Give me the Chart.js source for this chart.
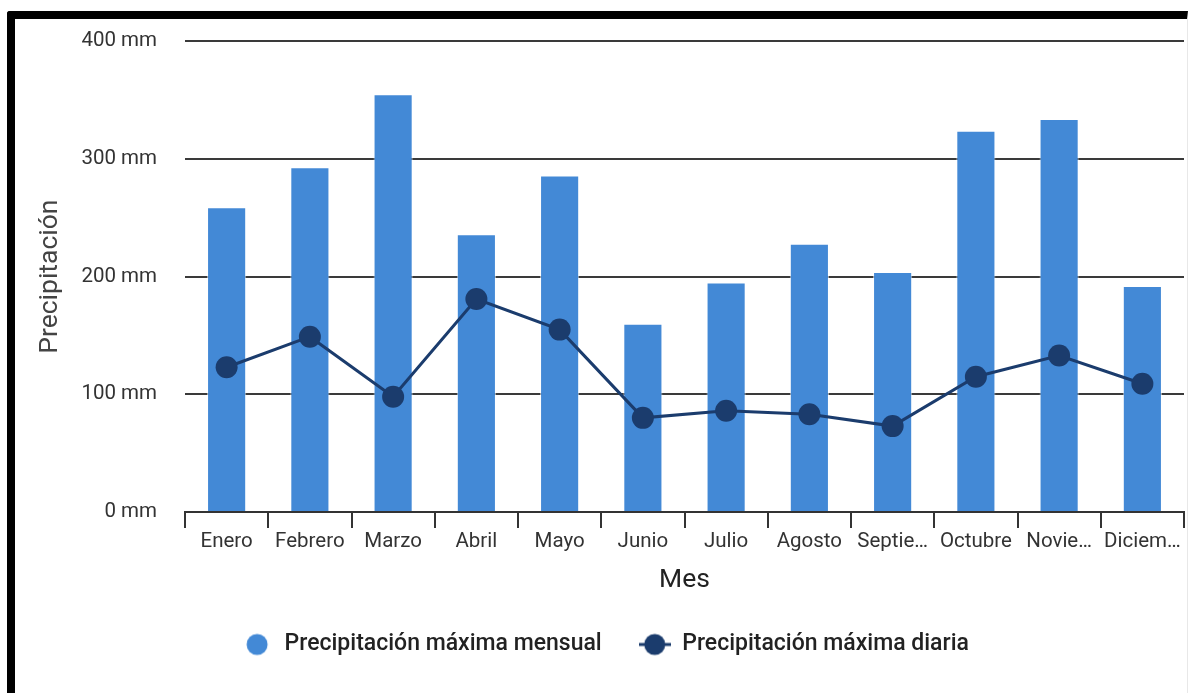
<!DOCTYPE html>
<html>
<head>
<meta charset="utf-8">
<script src="https://cdn.jsdelivr.net/npm/chart.js"></script>
<style>
  body { margin: 0; background: #fff; }
  #wrap {
    position: absolute; left: 7px; top: 11px;
    width: 1172px; height: 674px;
    border-top: 8px solid #000; border-left: 8px solid #000;
    border-right: 1px solid #e8e8e8;
    border-top-left-radius: 3px;
    overflow: hidden;
  }
  #myChart { position: absolute; left: 0; top: -18px; }
</style>
</head>
<body>
<div id="wrap"><canvas id="myChart" width="1180" height="692"></canvas></div>
<script>
//chart data
const months = ["Enero", "Febrero", "Marzo", "Abril", "Mayo", "Junio", "Julio", "Agosto", "Septiembre", "Octubre", "Noviembre", "Diciembre"];
const tickLabels = ["Enero", "Febrero", "Marzo", "Abril", "Mayo", "Junio", "Julio", "Agosto", "Septie…", "Octubre", "Novie…", "Diciem…"];
const maxMensual = [259, 293, 355, 236, 286, 160, 195, 228, 204, 324, 334, 192];
const maxDiaria = [123, 149, 98, 181, 155, 80, 86, 83, 73, 115, 133, 109];
const yTicks = [0, 100, 200, 300, 400];

const barColor = "#4389d6";
const lineColor = "#1b3c6d";

//legend icons
function makeIcon(withLine, color) {
  const c = document.createElement("canvas");
  c.width = 32;
  c.height = 24;
  const g = c.getContext("2d");
  if (withLine) {
    g.strokeStyle = color;
    g.lineWidth = 3;
    g.beginPath();
    g.moveTo(0, 12);
    g.lineTo(32, 12);
    g.stroke();
  }
  g.fillStyle = color;
  g.beginPath();
  g.arc(16, 12, 10.5, 0, Math.PI * 2);
  g.fill();
  return c;
}
const icons = [makeIcon(false, barColor), makeIcon(true, lineColor)];

const ctx = document.getElementById("myChart");
new Chart(ctx, {
  type: "bar",
  data: {
    labels: months,
    datasets: [
      {
        type: "line",
        label: "Precipitación máxima diaria",
        data: maxDiaria,
        borderColor: lineColor,
        backgroundColor: lineColor,
        borderWidth: 3,
        pointRadius: 11,
        pointHoverRadius: 11,
        pointBackgroundColor: lineColor,
        pointBorderWidth: 0,
        tension: 0,
        order: 0,
      },
      {
        label: "Precipitación máxima mensual",
        data: maxMensual,
        backgroundColor: barColor,
        borderColor: "rgba(255,255,255,0.6)",
        borderWidth: 1,
        barPercentage: 0.47,
        categoryPercentage: 1,
        order: 1,
      },
    ],
  },
  options: {
    responsive: false,
    animation: false,
    layout: { padding: { top: 7, right: 0, bottom: 27, left: 0 } },
    plugins: {
      tooltip: { enabled: false },
      legend: {
        position: "bottom",
        reverse: true,
        labels: {
          usePointStyle: true,
          pointStyleWidth: 32,
          padding: 37,
          color: "#222",
          font: { family: "Roboto", size: 23, weight: 500 },
          generateLabels: (chart) => {
            const items = Chart.defaults.plugins.legend.labels.generateLabels(chart);
            items.forEach((it) => {
              it.pointStyle = it.datasetIndex === 0 ? icons[1] : icons[0];
            });
            return items;
          },
        },
      },
    },
    scales: {
      x: {
        afterFit: (s) => { s.height = 84; },
        grid: {
          offset: true,
          drawOnChartArea: false,
          drawTicks: true,
          tickLength: 16,
          color: "#333",
          lineWidth: 2,
        },
        border: { color: "#333", width: 2 },
        ticks: {
          padding: 2,
          maxRotation: 0,
          autoSkip: false,
          color: "#333",
          font: { family: "Roboto", size: 20.5 },
          callback: (v, i) => tickLabels[i],
        },
        title: {
          display: true,
          text: "Mes",
          color: "#222",
          font: { family: "Roboto", size: 26.5 },
          padding: { top: 4, bottom: 0 },
        },
      },
      y: {
        min: 0,
        max: 400,
        afterFit: (s) => { s.width = 170; },
        afterBuildTicks: (s) => { s.ticks = yTicks.map((v) => ({ value: v })); },
        grid: { color: "#3a3a3a", lineWidth: 2, drawTicks: false },
        border: { display: false },
        ticks: {
          padding: 28,
          color: "#333",
          font: { family: "Roboto", size: 20.5 },
          callback: (v) => v + " mm",
        },
        title: {
          display: true,
          text: "Precipitación",
          color: "#444",
          font: { family: "Roboto", size: 26.5 },
          padding: { top: 19, bottom: 0 },
        },
      },
    },
  },
});
</script>
</body>
</html>
